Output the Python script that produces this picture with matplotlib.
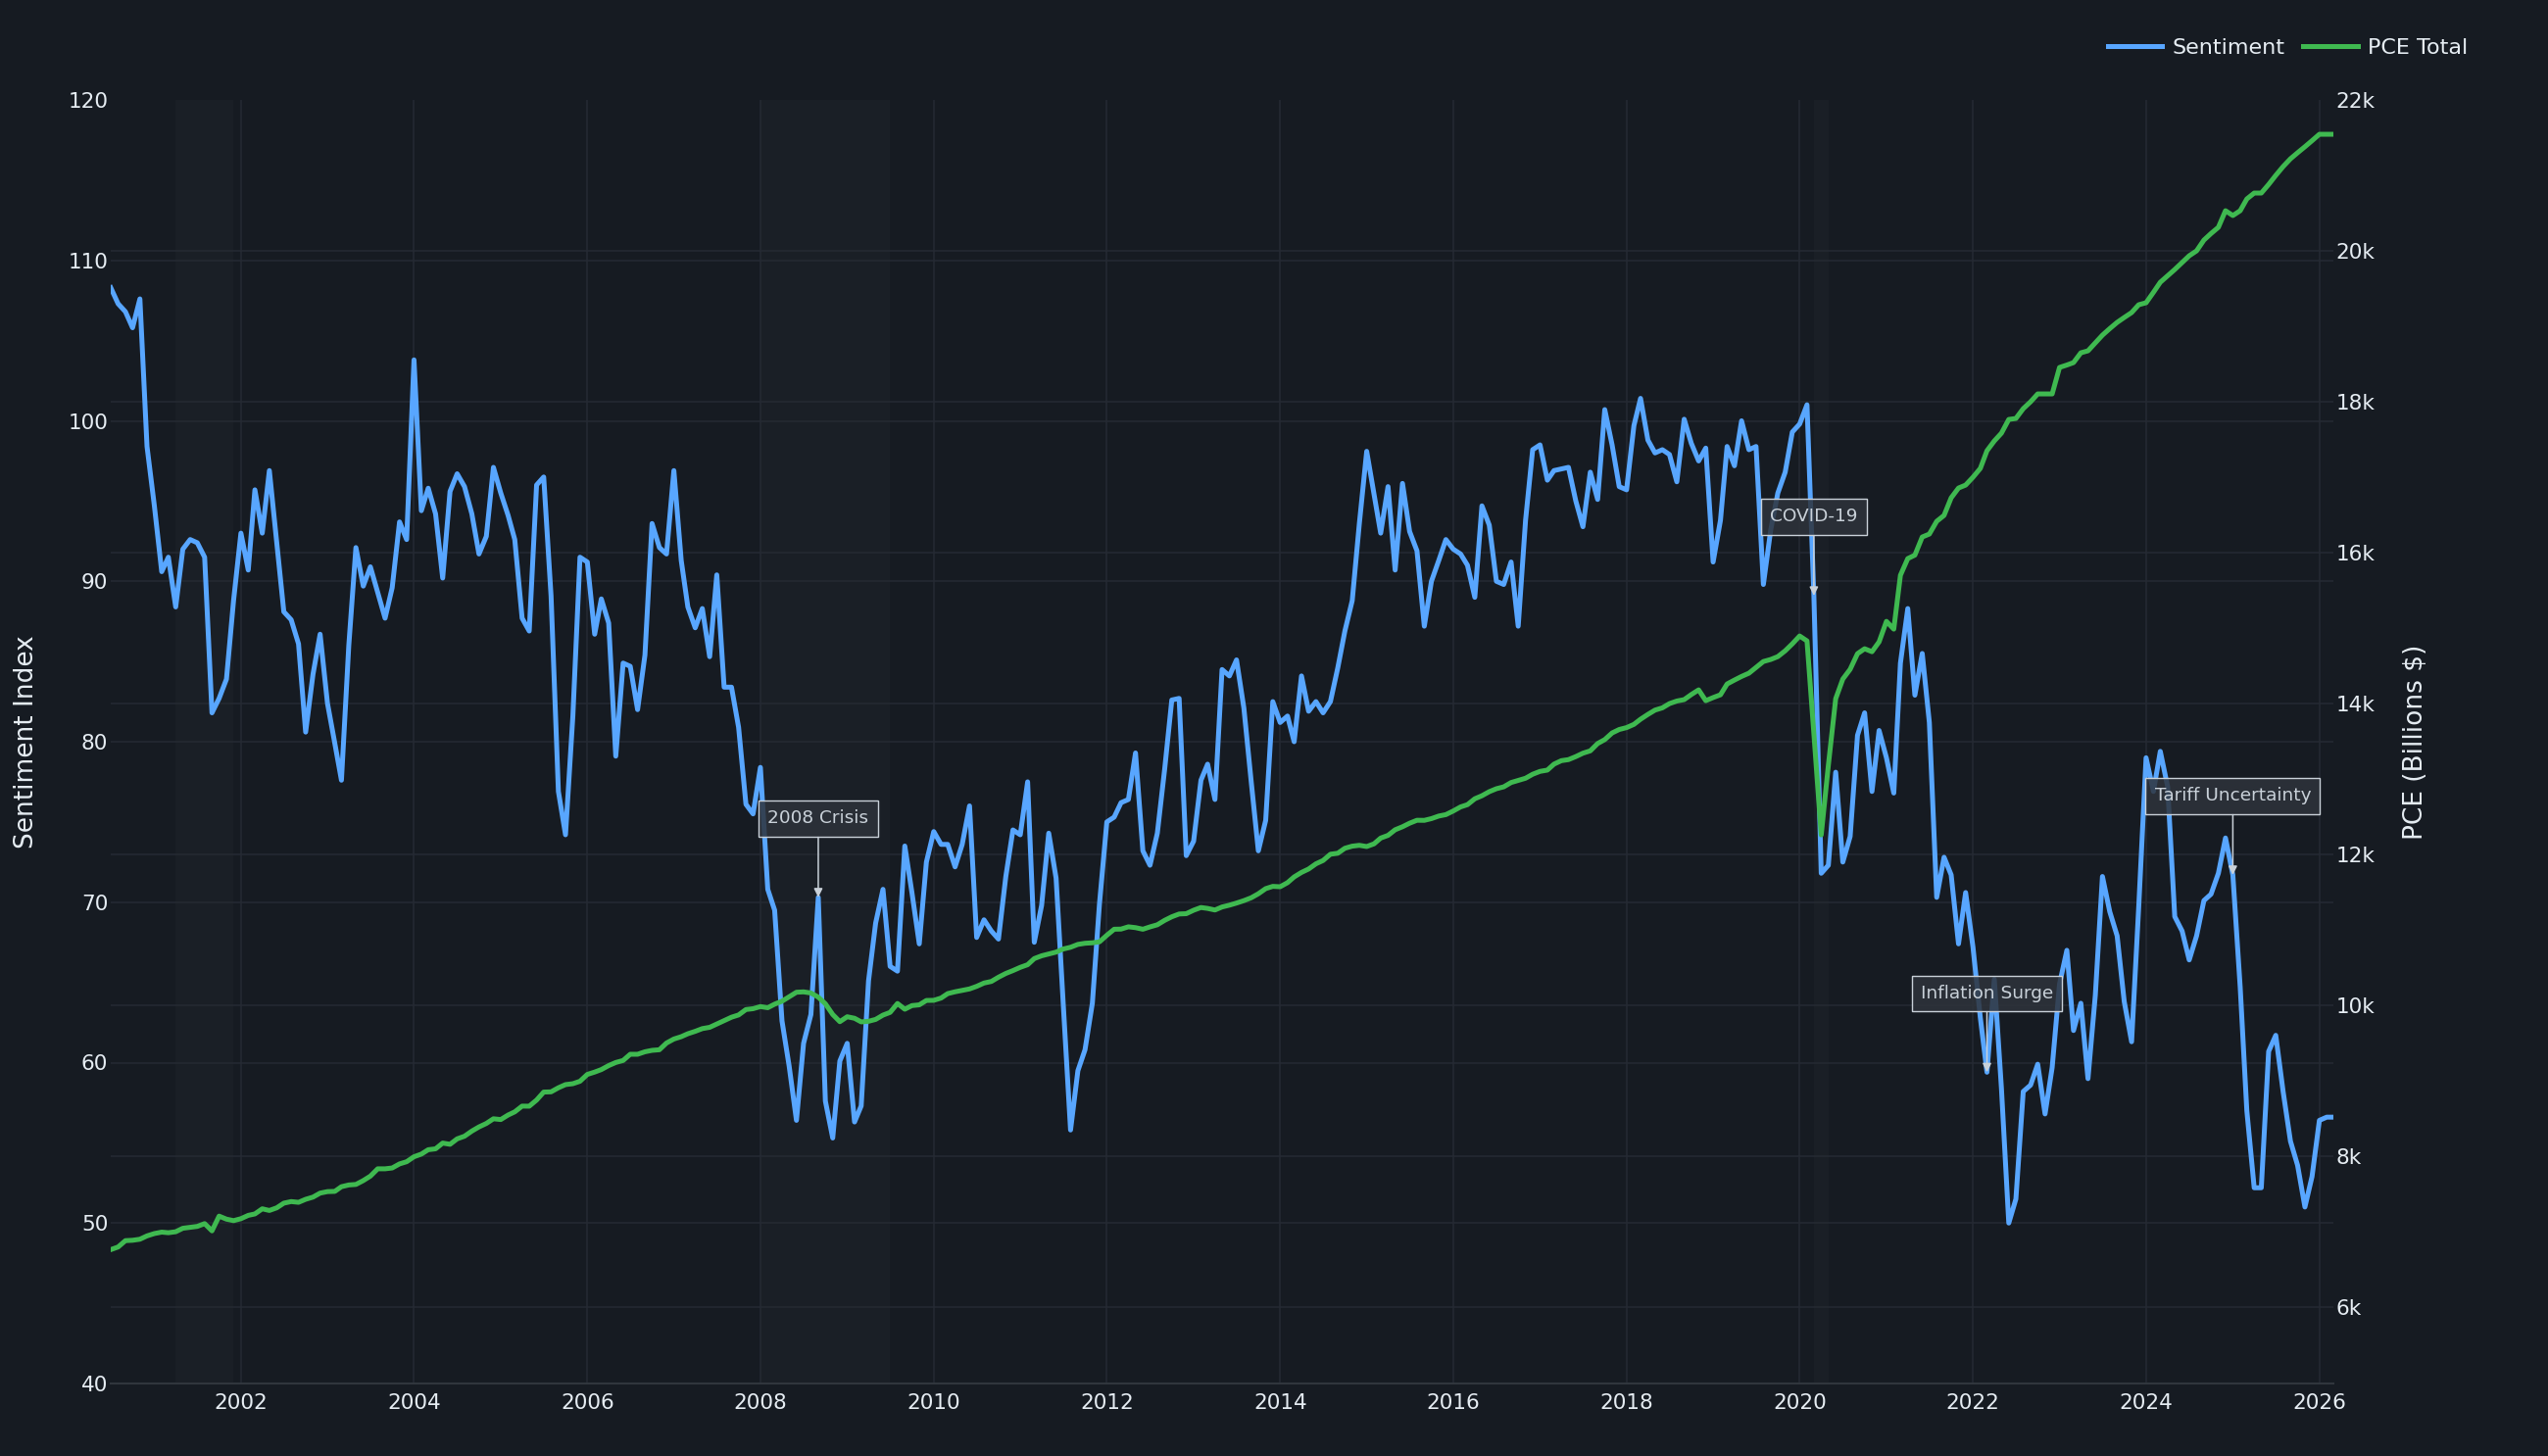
import numpy as np
import pandas as pd
import matplotlib
matplotlib.use('Agg')
import matplotlib.pyplot as plt
import matplotlib.dates as mdates
from matplotlib.lines import Line2D

plt.rcParams['font.family'] = ['DejaVu Sans']

# ── Data (monthly, Jul 2000 – Mar 2026) ─────────────────────
start_month = '2000-07-01'

sentiment = [
    108.3, 107.3, 106.8, 105.8, 107.6, 98.4,
    94.7, 90.6, 91.5, 88.4, 92.0, 92.6, 92.4, 91.5, 81.8, 82.7, 83.9, 88.8,
    93.0, 90.7, 95.7, 93.0, 96.9, 92.4, 88.1, 87.6, 86.1, 80.6, 84.2, 86.7,
    82.4, 79.9, 77.6, 86.0, 92.1, 89.7, 90.9, 89.3, 87.7, 89.6, 93.7, 92.6,
    103.8, 94.4, 95.8, 94.2, 90.2, 95.6, 96.7, 95.9, 94.2, 91.7, 92.8, 97.1,
    95.5, 94.1, 92.6, 87.7, 86.9, 96.0, 96.5, 89.1, 76.9, 74.2, 81.6, 91.5,
    91.2, 86.7, 88.9, 87.4, 79.1, 84.9, 84.7, 82.0, 85.4, 93.6, 92.1, 91.7,
    96.9, 91.3, 88.4, 87.1, 88.3, 85.3, 90.4, 83.4, 83.4, 80.9, 76.1, 75.5,
    78.4, 70.8, 69.5, 62.6, 59.8, 56.4, 61.2, 63.0, 70.3, 57.6, 55.3, 60.1,
    61.2, 56.3, 57.3, 65.1, 68.7, 70.8, 66.0, 65.7, 73.5, 70.6, 67.4, 72.5,
    74.4, 73.6, 73.6, 72.2, 73.6, 76.0, 67.8, 68.9, 68.2, 67.7, 71.6, 74.5,
    74.2, 77.5, 67.5, 69.8, 74.3, 71.5, 63.7, 55.8, 59.5, 60.8, 63.7, 69.9,
    75.0, 75.3, 76.2, 76.4, 79.3, 73.2, 72.3, 74.3, 78.3, 82.6, 82.7, 72.9,
    73.8, 77.6, 78.6, 76.4, 84.5, 84.1, 85.1, 82.1, 77.5, 73.2, 75.1, 82.5,
    81.2, 81.6, 80.0, 84.1, 81.9, 82.5, 81.8, 82.5, 84.6, 86.9, 88.8, 93.6,
    98.1, 95.4, 93.0, 95.9, 90.7, 96.1, 93.1, 91.9, 87.2, 90.0, 91.3, 92.6,
    92.0, 91.7, 91.0, 89.0, 94.7, 93.5, 90.0, 89.8, 91.2, 87.2, 93.8, 98.2,
    98.5, 96.3, 96.9, 97.0, 97.1, 95.0, 93.4, 96.8, 95.1, 100.7, 98.5, 95.9,
    95.7, 99.7, 101.4, 98.8, 98.0, 98.2, 97.9, 96.2, 100.1, 98.6, 97.5, 98.3,
    91.2, 93.8, 98.4, 97.2, 100.0, 98.2, 98.4, 89.8, 93.2, 95.5, 96.8, 99.3,
    99.8, 101.0, 89.1, 71.8, 72.3, 78.1, 72.5, 74.1, 80.4, 81.8, 76.9, 80.7,
    79.0, 76.8, 84.9, 88.3, 82.9, 85.5, 81.2, 70.3, 72.8, 71.7, 67.4, 70.6,
    67.2, 62.8, 59.4, 65.2, 58.4, 50.0, 51.5, 58.2, 58.6, 59.9, 56.8, 59.7,
    64.9, 67.0, 62.0, 63.7, 59.0, 64.2, 71.6, 69.4, 67.9, 63.8, 61.3, 69.7,
    79.0, 76.9, 79.4, 77.2, 69.1, 68.2, 66.4, 67.9, 70.1, 70.5, 71.8, 74.0,
    71.7, 64.7, 57.0, 52.2, 52.2, 60.7, 61.7, 58.2, 55.1, 53.6, 51.0, 52.9,
    56.4, 56.6, 56.6,
]

pce_total = [
    6764, 6799, 6883, 6888, 6902, 6946,
    6977, 6996, 6988, 7001, 7047, 7060, 7072, 7109, 7013, 7208, 7168, 7148,
    7174, 7218, 7237, 7305, 7283, 7318, 7380, 7401, 7391, 7431, 7460, 7513,
    7533, 7536, 7598, 7621, 7628, 7679, 7738, 7835, 7835, 7846, 7900, 7929,
    7995, 8030, 8088, 8100, 8176, 8160, 8232, 8267, 8335, 8390, 8436, 8498,
    8488, 8548, 8590, 8666, 8665, 8746, 8852, 8855, 8909, 8951, 8963, 8995,
    9086, 9117, 9150, 9203, 9244, 9271, 9353, 9353, 9386, 9405, 9413, 9502,
    9555, 9586, 9625, 9657, 9693, 9710, 9754, 9799, 9844, 9874, 9946, 9957,
    9985, 9970, 10017, 10056, 10114, 10175, 10180, 10165, 10110, 10022, 9880, 9785,
    9850, 9830, 9782, 9790, 9815, 9872, 9908, 10026, 9950, 9998, 10008, 10066,
    10068, 10098, 10157, 10181, 10199, 10219, 10253, 10297, 10318, 10374, 10424, 10462,
    10505, 10540, 10621, 10658, 10682, 10707, 10748, 10771, 10809, 10824, 10830, 10843,
    10930, 11010, 11012, 11042, 11031, 11010, 11041, 11069, 11128, 11175, 11212, 11216,
    11262, 11298, 11286, 11265, 11305, 11329, 11357, 11389, 11427, 11480, 11548, 11578,
    11573, 11627, 11703, 11763, 11808, 11877, 11921, 12004, 12017, 12083, 12111, 12122,
    12106, 12142, 12218, 12254, 12328, 12368, 12415, 12454, 12453, 12476, 12510, 12529,
    12577, 12631, 12661, 12739, 12779, 12833, 12872, 12897, 12954, 12982, 13011, 13064,
    13102, 13119, 13198, 13244, 13258, 13298, 13343, 13374, 13471, 13523, 13611, 13657,
    13682, 13725, 13793, 13857, 13914, 13944, 14000, 14034, 14053, 14120, 14182, 14039,
    14080, 14117, 14260, 14312, 14360, 14403, 14480, 14558, 14585, 14623, 14700, 14792,
    14896, 14831, 13600, 12260, 13180, 14065, 14325, 14455, 14662, 14727, 14688, 14818,
    15090, 14987, 15701, 15922, 15968, 16208, 16247, 16416, 16494, 16727, 16857, 16896,
    17000, 17117, 17351, 17481, 17584, 17766, 17779, 17909, 18000, 18104, 18104, 18104,
    18455, 18487, 18519, 18649, 18675, 18780, 18883, 18970, 19052, 19117, 19182, 19286,
    19312, 19450, 19584, 19670, 19753, 19845, 19935, 20000, 20143, 20230, 20312, 20532,
    20468, 20532, 20688, 20766, 20766, 20880, 21000, 21117, 21220, 21300, 21380, 21460,
    21545, 21545, 21545,
]

recessions = [('2001-04-01', '2001-12-01'),
              ('2008-01-01', '2009-07-01'),
              ('2020-03-01', '2020-05-01')]

events = [('2008-09-01', '2008 Crisis'),
          ('2020-03-01', 'COVID-19'),
          ('2022-03-01', 'Inflation Surge'),
          ('2025-01-01', 'Tariff Uncertainty')]

dates = pd.date_range(start_month, periods=len(sentiment), freq='MS')
sent = pd.Series(sentiment, index=dates)

# ── Style ───────────────────────────────────────────────────
BG = '#161b22'
GRID = '#252a33'
TXT = '#e6edf3'
ANN = '#c9d1d9'
BLUE = '#58a6ff'
GREEN = '#3fb950'

left_lim = (40, 120)
right_lim = (4990, 22000)

fig = plt.figure(figsize=(26, 14.86), dpi=100, facecolor=BG)
ax = fig.add_axes([113 / 2600, 74 / 1486, 2268 / 2600, 1310 / 1486])
ax.set_facecolor(BG)
ax2 = ax.twinx()

# recession shading
for a, b in recessions:
    ax.axvspan(pd.Timestamp(a), pd.Timestamp(b), color='white', alpha=0.018, lw=0, zorder=0)

# grid (both axes drawn on the left axis so they stay under the lines)
for v in range(50, 120, 10):
    ax.axhline(v, color=GRID, lw=1.1, zorder=1)
for v in range(6000, 22000, 2000):
    lv = left_lim[0] + (v - right_lim[0]) / (right_lim[1] - right_lim[0]) * (left_lim[1] - left_lim[0])
    ax.axhline(lv, color=GRID, lw=1.1, zorder=1)
for yr in range(2002, 2027, 2):
    ax.axvline(pd.Timestamp(f'{yr}-01-01'), color=GRID, lw=1.1, zorder=1)

ax.plot(dates, sentiment, color=BLUE, lw=3.6, zorder=3)
ax2.plot(dates, pce_total, color=GREEN, lw=3.6, zorder=3)

ax.set_xlim(dates[0], dates[-1])
ax.set_ylim(*left_lim)
ax2.set_ylim(*right_lim)

ax.set_yticks(range(40, 121, 10))
ax2.set_yticks(range(6000, 22001, 2000))
ax2.set_yticklabels([f'{v // 1000}k' for v in range(6000, 22001, 2000)])
ax.xaxis.set_major_locator(mdates.YearLocator(2))
ax.xaxis.set_major_formatter(mdates.DateFormatter('%Y'))

for a in (ax, ax2):
    for s in a.spines.values():
        s.set_visible(False)
ax.spines['bottom'].set_visible(True)
ax.spines['bottom'].set_color('#30363d')
ax.spines['bottom'].set_linewidth(1.5)

ax.tick_params(axis='x', length=0, pad=7, labelsize=15.5, colors=TXT)
ax.tick_params(axis='y', length=0, pad=2, labelsize=15.5, colors=TXT)
ax2.tick_params(axis='y', length=0, pad=2, labelsize=15.5, colors=TXT)

ax.set_ylabel('Sentiment Index', fontsize=19, color=TXT, labelpad=21)
ax2.set_ylabel('PCE (Billions $)', fontsize=19, color=TXT, labelpad=20, rotation=90)

# annotations
for d, label in events:
    ts = pd.Timestamp(d)
    ax.annotate(label, xy=(ts, sent[ts]), xytext=(0, 58), textcoords='offset points',
                ha='center', va='center', fontsize=13.3, color=ANN, zorder=6,
                bbox=dict(boxstyle='square,pad=0.5', fc=(0.18, 0.2, 0.23, 0.85),
                          ec=ANN, lw=1.0),
                arrowprops=dict(arrowstyle='-|>', color=ANN, lw=1.1,
                                mutation_scale=13, shrinkA=0, shrinkB=0))

handles = [Line2D([], [], color=BLUE, lw=3.6), Line2D([], [], color=GREEN, lw=3.6)]
fig.legend(handles, ['Sentiment', 'PCE Total'], loc='center right',
           bbox_to_anchor=(2518 / 2600, 1 - 49 / 1486), ncol=2, frameon=False,
           fontsize=16, labelcolor=TXT, handlelength=2.5, handletextpad=0.45,
           columnspacing=0.85, borderaxespad=0, borderpad=0)

fig.savefig('out.png', dpi=100, facecolor=BG)
